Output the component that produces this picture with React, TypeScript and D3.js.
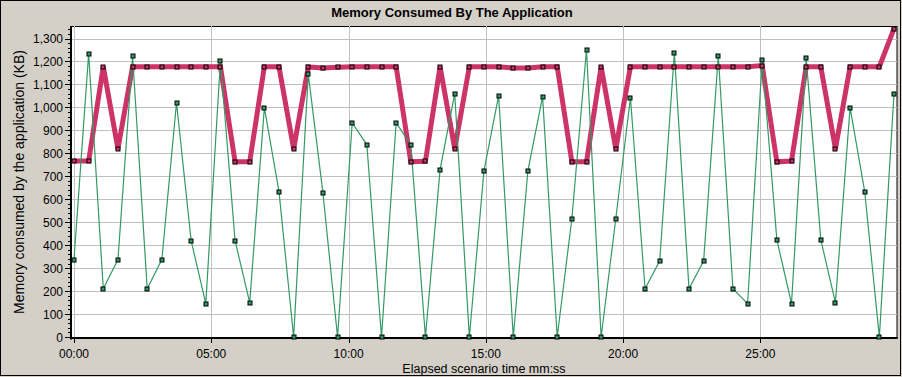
import React from "react";
import * as d3 from "d3";

const title = "Memory Consumed By The Application";
const xLabel = "Elapsed scenario time mm:ss";
const yLabel = "Memory consumed by the application (KB)";

const stepSeconds = 32;
// Series 1 (thick red line)
const seriesA: number[] = [
  766, 766, 1177, 820, 1177, 1177, 1177, 1177, 1177, 1177,
  1177, 763, 763, 1177, 1177, 820, 1176, 1172, 1175, 1177,
  1177, 1177, 1177, 763, 765, 1177, 820, 1177, 1177, 1177,
  1172, 1172, 1177, 1177, 763, 763, 1177, 820, 1177, 1177,
  1177, 1177, 1177, 1177, 1177, 1177, 1177, 1182, 763, 766,
  1177, 1177, 820, 1177, 1177, 1177, 1343,
];
// Series 2 (thin green line)
const seriesB: number[] = [
  337, 1234, 210, 337, 1225, 210, 337, 1020, 420, 145,
  1203, 420, 150, 999, 633, 0, 1145, 628, 0, 933,
  837, 0, 933, 837, 0, 729, 1060, 0, 725, 1051,
  0, 725, 1047, 0, 515, 1251, 0, 515, 1042, 210,
  332, 1238, 210, 332, 1225, 210, 145, 1208, 424, 145,
  1216, 424, 150, 999, 633, 0, 1060,
];
const yTicks = [0, 100, 200, 300, 400, 500, 600, 700, 800, 900, 1000, 1100, 1200, 1300];
const xTicks = [0, 300, 600, 900, 1200, 1500];

const W = 902;
const H = 377;
const plot = { left: 71, top: 26, right: 897, bottom: 338 };
const font = "'Liberation Sans', Arial, sans-serif";

const fmtTime = (s: number) => {
  const m = Math.floor(s / 60);
  const sec = s % 60;
  return `${String(m).padStart(2, "0")}:${String(sec).padStart(2, "0")}`;
};

export default function App() {
  const n = seriesA.length;
  const x = d3.scaleLinear().domain([0, (n - 1) * stepSeconds]).range([74, 894]);
  const y = d3.scaleLinear().domain([0, 1300]).range([337, 38.5]);
  const fmtY = d3.format(",");

  const lineGen = d3
    .line<number>()
    .x((_, i) => x(i * stepSeconds))
    .y((d) => y(d));

  const minor = d3.range(0, 1360, 20).filter((v) => v % 100 !== 0 && y(v) > plot.top);

  return (
    <div style={{ position: "fixed", left: 0, top: 0 }}>
      <svg width={W} height={H} style={{ display: "block" }}>
        <rect x={0} y={0} width={W} height={H} fill="#d4d0c8" />
        <rect x={0.5} y={0.5} width={900} height={375} fill="none" stroke="#000" />
        <text
          x={452}
          y={17}
          textAnchor="middle"
          fontFamily={font}
          fontWeight="bold"
          fontSize={13}
          fill="#000"
        >
          {title}
        </text>
        <rect
          x={plot.left}
          y={plot.top + 0.5}
          width={plot.right - plot.left}
          height={plot.bottom - plot.top}
          fill="#fff"
          stroke="#000"
          strokeWidth={1}
        />
        {yTicks.map((t) => (
          <line
            key={"gy" + t}
            x1={plot.left}
            x2={plot.right}
            y1={Math.round(y(t)) + 0.5}
            y2={Math.round(y(t)) + 0.5}
            stroke="#c0c0c0"
            strokeWidth={1}
          />
        ))}
        {xTicks.map((t) => (
          <line
            key={"gx" + t}
            x1={Math.round(x(t)) + 0.5}
            x2={Math.round(x(t)) + 0.5}
            y1={plot.top}
            y2={plot.bottom}
            stroke="#c0c0c0"
            strokeWidth={1}
          />
        ))}
        {/* axes */}
        <line x1={plot.left} x2={plot.left} y1={plot.top} y2={plot.bottom + 1.5} stroke="#000" strokeWidth={2} />
        <line x1={plot.left - 1} x2={plot.right + 0.5} y1={plot.bottom} y2={plot.bottom} stroke="#000" strokeWidth={2} />
        {yTicks.map((t) => (
          <g key={"ty" + t}>
            <line
              x1={plot.left - 6}
              x2={plot.left}
              y1={Math.round(y(t)) + 0.5}
              y2={Math.round(y(t)) + 0.5}
              stroke="#000"
            />
            <text
              x={63}
              y={y(t) + 4.5}
              textAnchor="end"
              fontFamily={font}
              fontSize={12}
              fill="#000"
            >
              {fmtY(t)}
            </text>
          </g>
        ))}
        {minor.map((t) => (
          <line
            key={"my" + t}
            x1={plot.left - 3}
            x2={plot.left}
            y1={Math.round(y(t)) + 0.5}
            y2={Math.round(y(t)) + 0.5}
            stroke="#000"
          />
        ))}
        {xTicks.map((t) => (
          <g key={"tx" + t}>
            <line
              x1={Math.round(x(t)) + 0.5}
              x2={Math.round(x(t)) + 0.5}
              y1={plot.bottom}
              y2={plot.bottom + 5}
              stroke="#000"
            />
            <text
              x={x(t)}
              y={358}
              textAnchor="middle"
              fontFamily={font}
              fontSize={12}
              fill="#000"
            >
              {fmtTime(t)}
            </text>
          </g>
        ))}
        <text
          x={(plot.left + plot.right) / 2}
          y={373}
          textAnchor="middle"
          fontFamily={font}
          fontSize={12.5}
          fill="#000"
        >
          {xLabel}
        </text>
        <text
          transform={`translate(24, ${(plot.top + plot.bottom) / 2}) rotate(-90)`}
          textAnchor="middle"
          fontFamily={font}
          fontSize={14}
          fill="#000"
        >
          {yLabel}
        </text>
        {/* series */}
        <path d={lineGen(seriesA) || ""} fill="none" stroke="#cc3366" strokeWidth={5} strokeLinejoin="miter" />
        <path d={lineGen(seriesB) || ""} fill="none" stroke="#339966" strokeWidth={1.2} />
        {seriesA.map((v, i) => (
          <rect
            key={"ma" + i}
            x={Math.round(x(i * stepSeconds)) - 2}
            y={Math.round(y(v)) - 2}
            width={4}
            height={4}
            fill="#cc3366"
            stroke="#000"
            strokeWidth={1}
          />
        ))}
        {seriesB.map((v, i) => (
          <rect
            key={"mb" + i}
            x={Math.round(x(i * stepSeconds)) - 2}
            y={Math.round(y(v)) - 2}
            width={4}
            height={4}
            fill="#339966"
            stroke="#000"
            strokeWidth={1}
          />
        ))}
      </svg>
    </div>
  );
}
